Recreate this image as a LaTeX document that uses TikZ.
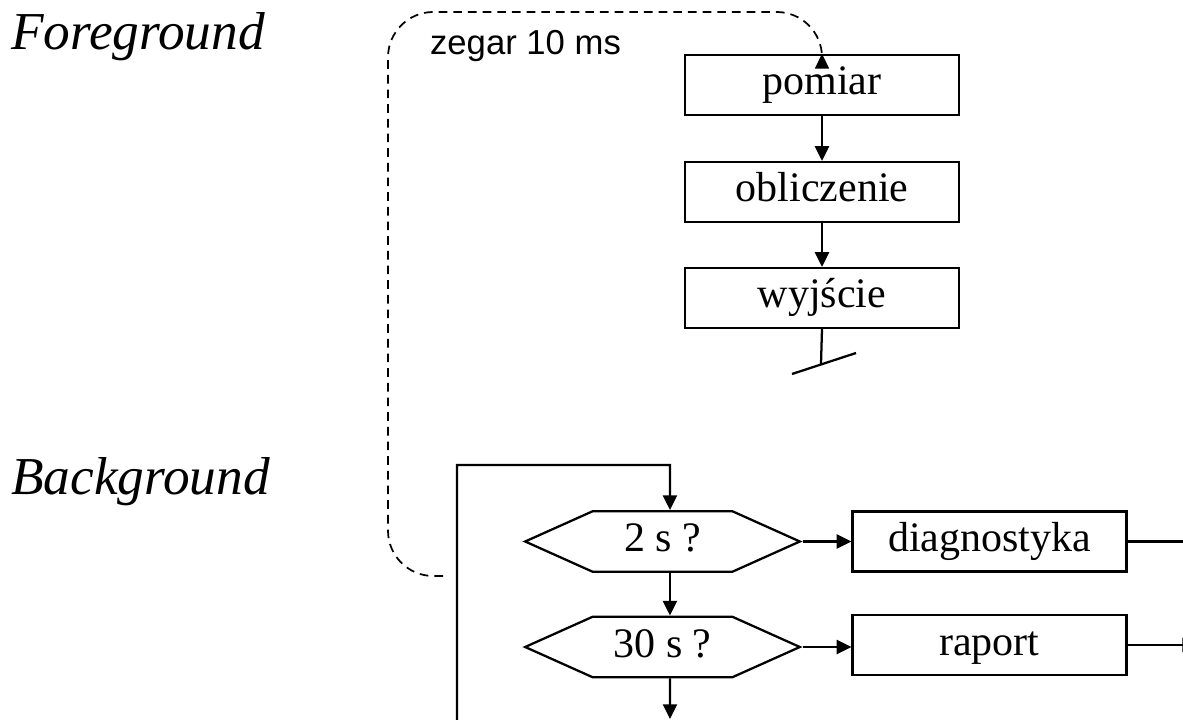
\documentclass[tikz,border=0pt]{standalone}
\usepackage{fontspec}
\setmainfont{Liberation Serif}
\newfontfamily\zegarfont{Liberation Sans}
\usepackage{tikz}
\usetikzlibrary{arrows.meta,shapes.symbols}
\definecolor{linia}{RGB}{0,0,0}
\newcommand{\boxfont}{\fontsize{31.5}{36}\selectfont}

\begin{document}
\begin{tikzpicture}[x=0.75pt,y=0.75pt,>={Triangle[length=11pt,width=10.5pt]},
    line width=1.7pt,
    krok/.style={draw=linia, rectangle, minimum width=205.5pt, minimum height=45pt,
        inner sep=0pt, text height=22pt, text depth=7pt, font=\boxfont},
    pytanie/.style={draw=linia, signal, signal to=east and west, signal pointer angle=48.3,
        minimum width=206pt, minimum height=45.5pt, inner sep=0pt,
        text height=22pt, text depth=7pt, font=\boxfont},
    opis/.style={anchor=base west, inner sep=0pt, font=\fontsize{40}{46}\selectfont\itshape}]
    \useasboundingbox (0,0) rectangle (1183,-720);
    % naglowki
    \node[opis] (fg) at (10,-50) {Foreground};
    \node[opis] (bg) at (10,-495) {Background};
    \node[anchor=base west, inner sep=0pt, font=\zegarfont\fontsize{26}{30}\selectfont]
        (zegar) at (429,-55) {zegar 10 ms};
    %
    % foreground
    \node[krok] (pomiar) at (822,-85) {pomiar};
    \node[krok] (oblicz) at (822,-192) {obliczenie};
    \node[krok] (wyjscie) at (822,-298) {wyjście};
    \coordinate (wyjkoniec) at (821,-364);
    %
    % background
    \node[pytanie] (dwa) at (662.5,-541.5) {2 s ?};
    \node[pytanie] (trzydziesci) at (662.5,-647) {30 s ?};
    \node[krok] (diag) at (989.5,-541.5) {diagnostyka};
    \node[krok] (raport) at (989.5,-645) {raport};
    \coordinate (petladol) at (457,-725);
    \coordinate (petlagora) at (670,-465);
    \coordinate (wyjdol) at (670,-719);
    \coordinate (diagwyj) at (1200,-541.5);
    \coordinate (rapwyj) at (1197,-645);
    \coordinate (zegarstart) at (443,-576);
    \coordinate (zegarrog) at (388,-12);
    %
    \draw[->] (pomiar) -- (oblicz);
    \draw[->] (oblicz) -- (wyjscie);
    \draw (wyjscie.south) -- (wyjkoniec);
    \draw ([xshift=-21.75pt,yshift=-7.5pt]wyjkoniec) -- ([xshift=26.25pt,yshift=8.25pt]wyjkoniec);
    %
    \draw[->] (petladol) |- (petlagora) -- ([xshift=5.6pt]dwa.north);
    \draw[->] ([xshift=5.6pt]dwa.south) -- ([xshift=5.6pt]trzydziesci.north);
    \draw[->] ([xshift=5.6pt]trzydziesci.south) -- (wyjdol);
    \draw[->] (dwa.east) -- (diag.west);
    \draw[->] (trzydziesci.east) -- (trzydziesci.east -| raport.west);
    \draw (diag.east) -- (diagwyj);
    \draw[->] (raport.east) -- (rapwyj);
    %
    \draw[->, line width=1.3pt, dash pattern=on 6.5pt off 4.5pt, rounded corners=34pt]
        (zegarstart) -| (zegarrog) -| (pomiar.north);
\end{tikzpicture}
\end{document}
